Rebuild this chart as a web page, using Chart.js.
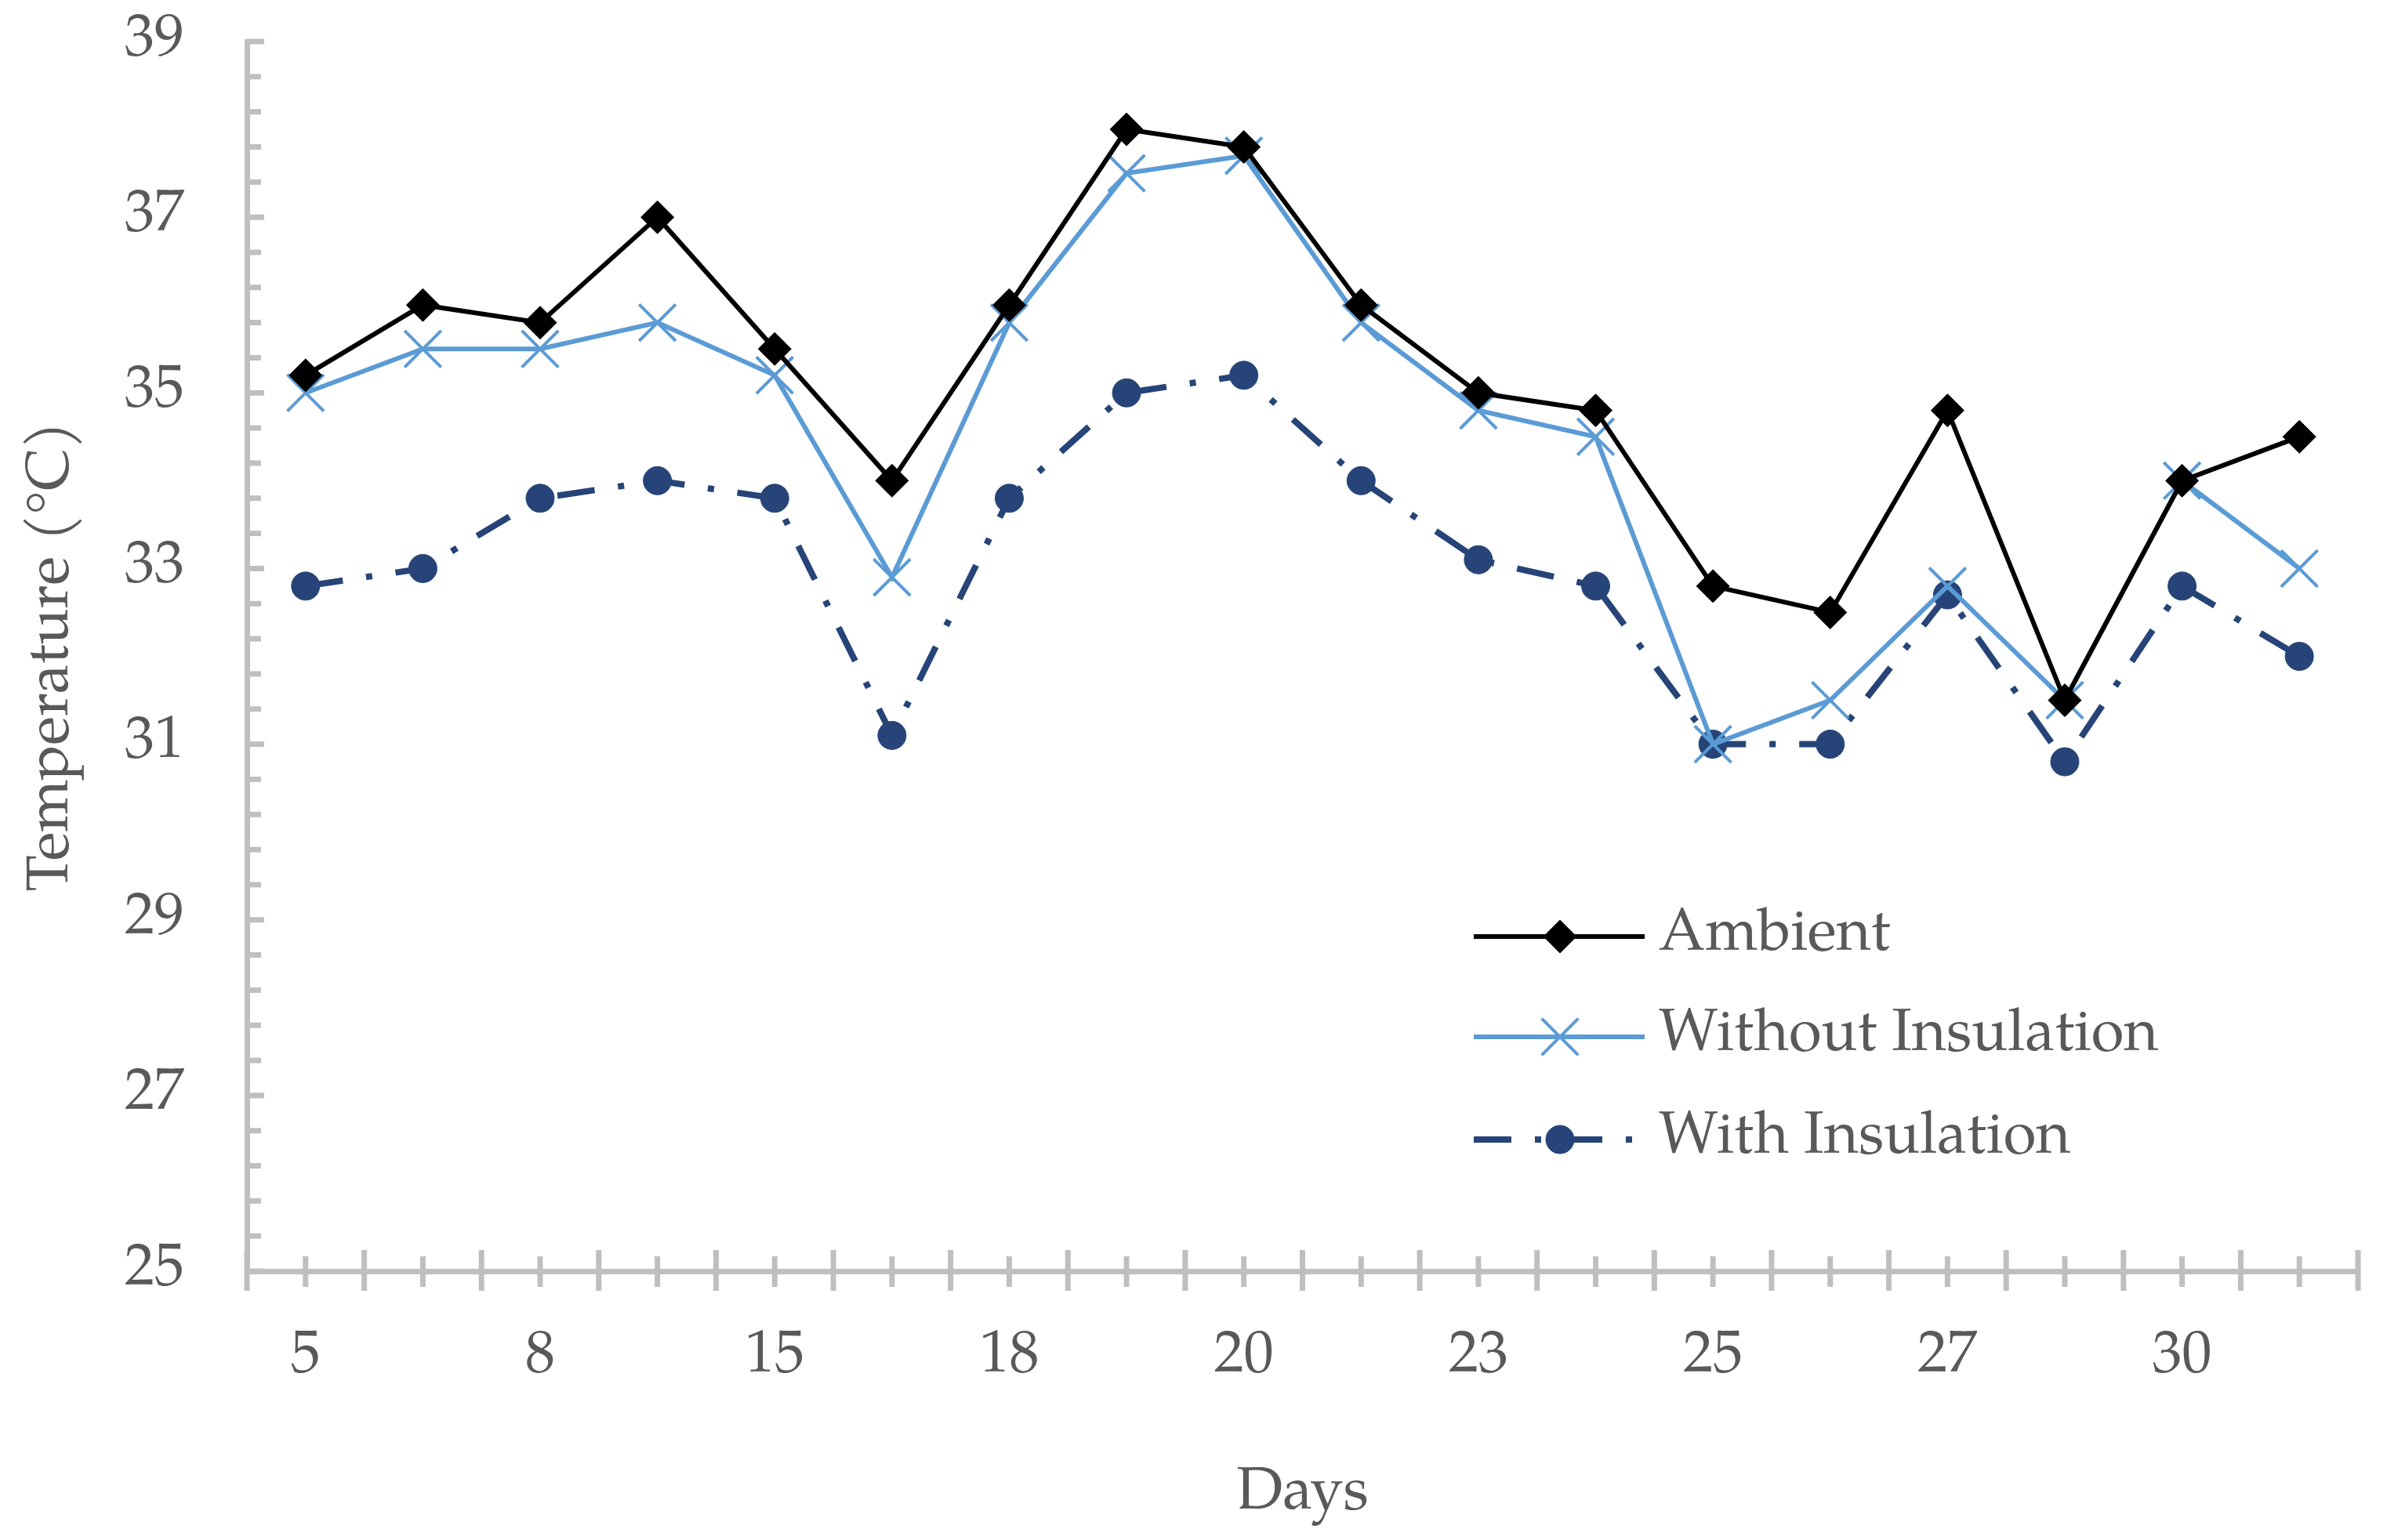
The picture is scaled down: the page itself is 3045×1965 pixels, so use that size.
<!DOCTYPE html>
<html>
<head>
<meta charset="utf-8">
<script src="https://cdn.jsdelivr.net/npm/chart.js@4.4.1/dist/chart.umd.min.js"></script>
<style>
  html, body { margin: 0; padding: 0; background: #ffffff; }
  #wrap { width: 3045px; height: 1965px; }
</style>
</head>
<body>
<div id="wrap"><canvas id="tempChart" width="3045" height="1965" style="width:3045px;height:1965px"></canvas></div>
<script>
// day labels (only every other one is printed on the axis)
const days = ['5', '6', '8', '10', '15', '16', '18', '19', '20', '22', '23', '24', '25', '26', '27', '28', '30', '31'];

// temperatures (°C)
const ambient = [35.2, 36.0, 35.8, 37.0, 35.5, 34.0, 36.0, 38.0, 37.8, 36.0, 35.0, 34.8, 32.8, 32.5, 34.8, 31.5, 34.0, 34.5];
const withoutInsulation = [35.0, 35.5, 35.5, 35.8, 35.2, 32.9, 35.8, 37.5, 37.7, 35.8, 34.8, 34.5, 31.0, 31.5, 32.8, 31.5, 34.0, 33.0];
const withInsulation = [32.8, 33.0, 33.8, 34.0, 33.8, 31.1, 33.8, 35.0, 35.2, 34.0, 33.1, 32.8, 31.0, 31.0, 32.7, 30.8, 32.8, 32.0];

const seriesNames = ['Ambient', 'Without Insulation', 'With Insulation'];

// y axis: 25..39, labels every 2, minor ticks every 0.4
const yMin = 25;
const yMax = 39;
const yMinorStep = 0.4;
const yLabelStep = 2;

const FONT = '"Palatino Linotype", "Book Antiqua", Palatino, "P052", "TeX Gyre Pagella", "Liberation Serif", serif';
const FONT_SIZE = 76;
const TEXT_COLOR = '#595959';
const AXIS_COLOR = '#bfbfbf';
const AXIS_W = 7;

const COL_AMB = '#000000';
const COL_WO = '#5b9bd5';
const COL_WI = '#264478';
const DASH_WI = [48, 30, 8, 30];

// tick marks drawn like the Excel axes: inward on y, crossing on x
const axisTicks = {
  id: 'axisTicks',
  beforeDatasetsDraw(chart) {
    const { ctx, chartArea, scales: { x, y } } = chart;
    ctx.save();
    ctx.strokeStyle = AXIS_COLOR;
    ctx.lineWidth = AXIS_W;
    ctx.lineCap = 'butt';
    y.ticks.forEach((t) => {
      const py = y.getPixelForValue(t.value);
      const k = (t.value - yMin) / yLabelStep;
      const major = Math.abs(k - Math.round(k)) < 1e-6;
      ctx.beginPath();
      ctx.moveTo(chartArea.left, py);
      ctx.lineTo(chartArea.left + (major ? 22 : 18), py);
      ctx.stroke();
    });
    const by = chartArea.bottom;
    for (let i = 0; i <= days.length; i++) {
      const px = x.getPixelForValue(i - 0.5);
      ctx.beginPath();
      ctx.moveTo(px, by - 27);
      ctx.lineTo(px, by + 25);
      ctx.stroke();
    }
    for (let i = 0; i < days.length; i++) {
      const px = x.getPixelForValue(i);
      ctx.beginPath();
      ctx.moveTo(px, by - 19);
      ctx.lineTo(px, by + 20);
      ctx.stroke();
    }
    ctx.restore();
  }
};

// legend inside the plot, line + marker like the original
const insideLegend = {
  id: 'insideLegend',
  afterDraw(chart) {
    const { ctx } = chart;
    const x1 = 1880, x2 = 2098, xm = 1990, xt = 2116;
    const rows = [1195, 1323, 1454];
    ctx.save();
    chart.data.datasets.forEach((ds, i) => {
      const yy = rows[i];
      ctx.strokeStyle = ds.borderColor;
      ctx.lineWidth = ds.borderWidth;
      ctx.lineCap = 'butt';
      ctx.setLineDash(ds.borderDash || []);
      ctx.beginPath();
      ctx.moveTo(x1, yy);
      ctx.lineTo(x2, yy);
      ctx.stroke();
      ctx.setLineDash([]);
      ctx.fillStyle = ds.pointBackgroundColor;
      ctx.strokeStyle = ds.pointBorderColor;
      ctx.lineWidth = ds.pointBorderWidth;
      Chart.helpers.drawPoint(ctx, {
        pointStyle: ds.pointStyle,
        radius: ds.pointRadius,
        borderWidth: ds.pointBorderWidth,
        rotation: 0
      }, xm, yy);
      ctx.fillStyle = TEXT_COLOR;
      ctx.font = FONT_SIZE + 'px ' + FONT;
      ctx.textAlign = 'left';
      ctx.textBaseline = 'middle';
      ctx.fillText(ds.label, xt, yy);
    });
    ctx.restore();
  }
};

const ctx = document.getElementById('tempChart').getContext('2d');

new Chart(ctx, {
  type: 'line',
  data: {
    labels: days,
    datasets: [
      {
        label: seriesNames[0],
        data: ambient,
        borderColor: COL_AMB,
        borderWidth: 6,
        pointStyle: 'rectRot',
        pointRadius: 21,
        pointBackgroundColor: COL_AMB,
        pointBorderColor: COL_AMB,
        pointBorderWidth: 1,
        tension: 0
      },
      {
        label: seriesNames[1],
        data: withoutInsulation,
        borderColor: COL_WO,
        borderWidth: 6,
        pointStyle: 'crossRot',
        pointRadius: 33,
        pointBackgroundColor: COL_WO,
        pointBorderColor: COL_WO,
        pointBorderWidth: 4,
        tension: 0
      },
      {
        label: seriesNames[2],
        data: withInsulation,
        borderColor: COL_WI,
        borderWidth: 8,
        borderDash: DASH_WI,
        borderCapStyle: 'butt',
        pointStyle: 'circle',
        pointRadius: 18,
        pointBackgroundColor: COL_WI,
        pointBorderColor: COL_WI,
        pointBorderWidth: 1,
        tension: 0
      }
    ]
  },
  options: {
    responsive: false,
    animation: false,
    devicePixelRatio: 1,
    layout: { padding: { left: 0, right: 19, top: 53, bottom: 0 } },
    plugins: {
      legend: { display: false },
      tooltip: { enabled: false }
    },
    scales: {
      x: {
        type: 'category',
        offset: true,
        // grid hidden; tickLength only pushes the labels down
        grid: { display: false, drawTicks: true, tickLength: 66 },
        border: { display: true, color: AXIS_COLOR, width: AXIS_W },
        ticks: {
          autoSkip: false,
          maxRotation: 0,
          padding: 0,
          color: TEXT_COLOR,
          font: { family: FONT, size: FONT_SIZE },
          callback: (v, i) => (i % 2 === 0 ? days[i] : '')
        },
        title: {
          display: true,
          text: 'Days',
          color: TEXT_COLOR,
          font: { family: FONT, size: FONT_SIZE },
          padding: { top: 0, bottom: 11 }
        },
        afterFit: (scale) => { scale.height = 1965 - 1622; }
      },
      y: {
        min: yMin,
        max: yMax,
        grid: { display: false, drawTicks: true, tickLength: 80 },
        border: { display: true, color: AXIS_COLOR, width: AXIS_W },
        ticks: {
          stepSize: yMinorStep,
          autoSkip: false,
          padding: 0,
          color: TEXT_COLOR,
          font: { family: FONT, size: FONT_SIZE },
          callback: (v) => {
            const k = (v - yMin) / yLabelStep;
            return Math.abs(k - Math.round(k)) < 1e-6 ? String(Math.round(v)) : '';
          }
        },
        title: {
          display: true,
          text: 'Temperature (°C)',
          color: TEXT_COLOR,
          font: { family: FONT, size: FONT_SIZE },
          padding: { top: 24, bottom: 0 }
        },
        afterFit: (scale) => { scale.width = 315; }
      }
    }
  },
  plugins: [axisTicks, insideLegend]
});
</script>
</body>
</html>
